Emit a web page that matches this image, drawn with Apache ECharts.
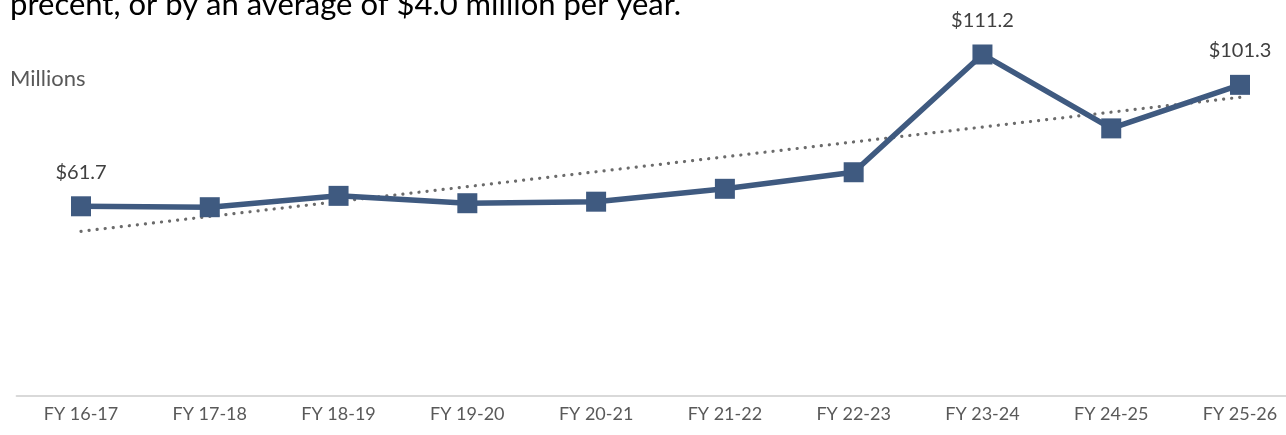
<!DOCTYPE html>
<html>
<head>
<meta charset="utf-8">
<script src="https://cdn.jsdelivr.net/npm/echarts@6/dist/echarts.min.js"></script>
<style>
  html, body { margin: 0; padding: 0; background: #fff; }
  #chart { width: 1286px; height: 435px; }
</style>
</head>
<body>
<div id="chart"></div>
<script>
// Fiscal years on the category axis
var categories = ['FY 16-17', 'FY 17-18', 'FY 18-19', 'FY 19-20', 'FY 20-21',
                  'FY 21-22', 'FY 22-23', 'FY 23-24', 'FY 24-25', 'FY 25-26'];
// Annual totals, in millions of dollars
var revenue = [61.7, 61.4, 65.1, 62.7, 63.2, 67.4, 72.8, 111.2, 87.1, 101.3];
// Points that carry a value label
var labeledPoints = [0, 7, 9];

var noteText = 'precent, or by an average of $4.0 million per year.';
var unitText = 'Millions';

// Least-squares linear trend over the annual totals
function linearTrend(values) {
  var n = values.length, sx = 0, sy = 0, sxy = 0, sxx = 0;
  for (var i = 0; i < n; i++) {
    sx += i; sy += values[i]; sxy += i * values[i]; sxx += i * i;
  }
  var slope = (n * sxy - sx * sy) / (n * sxx - sx * sx);
  var intercept = (sy - slope * sx) / n;
  return values.map(function (_, i) { return +(intercept + slope * i).toFixed(3); });
}
var trend = linearTrend(revenue);

var FONT = 'Lato, "Open Sans", sans-serif';
var chart = echarts.init(document.getElementById('chart'), null, { renderer: 'canvas' });

chart.setOption({
  animation: false,
  backgroundColor: '#ffffff',
  grid: { left: 16.6, top: 27.5, width: 1287.8, height: 368, outerBoundsMode: 'none', containLabel: false },
  xAxis: {
    type: 'category',
    data: categories,
    boundaryGap: true,
    axisLine: { show: true, lineStyle: { color: '#d9d9d9', width: 2 } },
    axisTick: { show: false },
    axisLabel: { color: '#595959', fontSize: 18, fontFamily: FONT, margin: 10 }
  },
  yAxis: {
    type: 'value',
    min: 0,
    max: 120,
    interval: 20,
    show: false,
    splitLine: { show: false }
  },
  graphic: [
    {
      type: 'text', left: 10, top: -11,
      style: { text: noteText, fill: '#000000', font: '31px ' + FONT }
    },
    {
      type: 'text', left: 10, top: 68,
      style: { text: unitText, fill: '#595959', font: '22px ' + FONT }
    }
  ],
  series: [
    {
      name: 'Trend',
      type: 'line',
      data: trend,
      symbol: 'none',
      silent: true,
      z: 1,
      lineStyle: { color: '#6b6b6b', width: 3.2, type: [0.1, 8], cap: 'round' }
    },
    {
      name: 'Revenue',
      type: 'line',
      data: revenue,
      symbol: 'rect',
      symbolSize: 20,
      z: 3,
      itemStyle: { color: '#3f5a80' },
      lineStyle: { color: '#3f5a80', width: 5.5 },
      label: {
        show: true,
        position: 'top',
        distance: 14,
        color: '#404040',
        fontSize: 20,
        fontFamily: FONT,
        formatter: function (p) {
          return labeledPoints.indexOf(p.dataIndex) >= 0 ? '$' + p.value.toFixed(1) : '';
        }
      }
    }
  ]
});
</script>
</body>
</html>
